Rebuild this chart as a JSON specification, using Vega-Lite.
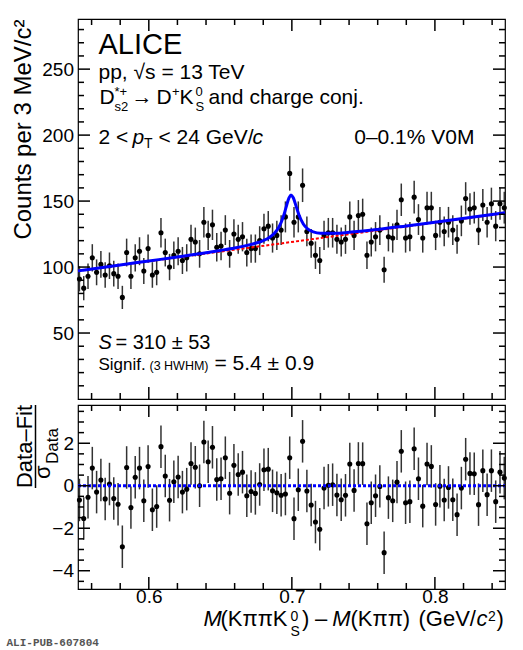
{
  "$schema": "https://vega.github.io/schema/vega-lite/v6.json",
  "background": "white",
  "padding": {"left": 5, "top": 17, "right": 2, "bottom": 4},
  "bounds": "flush",
  "spacing": 6,
  "datasets": {
    "bins": [
      {"m": 0.5515, "counts": 91, "err": 9.54, "pull": -0.67, "pull_err": 1},
      {"m": 0.5545, "counts": 84, "err": 9.17, "pull": -1.54, "pull_err": 1},
      {"m": 0.5575, "counts": 93, "err": 9.64, "pull": -0.54, "pull_err": 1},
      {"m": 0.5605, "counts": 107, "err": 10.34, "pull": 0.83, "pull_err": 1},
      {"m": 0.5635, "counts": 96, "err": 9.8, "pull": -0.3, "pull_err": 1},
      {"m": 0.5665, "counts": 102, "err": 10.1, "pull": 0.27, "pull_err": 1},
      {"m": 0.5695, "counts": 94, "err": 9.7, "pull": -0.62, "pull_err": 1},
      {"m": 0.5725, "counts": 101, "err": 10.05, "pull": 0.08, "pull_err": 1},
      {"m": 0.5755, "counts": 95, "err": 9.75, "pull": -0.6, "pull_err": 1},
      {"m": 0.5785, "counts": 93, "err": 9.64, "pull": -0.87, "pull_err": 1},
      {"m": 0.5815, "counts": 77, "err": 8.77, "pull": -2.87, "pull_err": 1},
      {"m": 0.5845, "counts": 111, "err": 10.54, "pull": 0.86, "pull_err": 1},
      {"m": 0.5875, "counts": 93, "err": 9.64, "pull": -1.03, "pull_err": 1},
      {"m": 0.5905, "counts": 107, "err": 10.34, "pull": 0.4, "pull_err": 1},
      {"m": 0.5935, "counts": 112, "err": 10.58, "pull": 0.83, "pull_err": 1},
      {"m": 0.5965, "counts": 97, "err": 9.85, "pull": -0.71, "pull_err": 1},
      {"m": 0.5995, "counts": 114, "err": 10.68, "pull": 0.9, "pull_err": 1},
      {"m": 0.6025, "counts": 94, "err": 9.7, "pull": -1.13, "pull_err": 1},
      {"m": 0.6055, "counts": 96, "err": 9.8, "pull": -0.98, "pull_err": 1},
      {"m": 0.6085, "counts": 126, "err": 11.22, "pull": 1.84, "pull_err": 1},
      {"m": 0.6115, "counts": 111, "err": 10.54, "pull": 0.46, "pull_err": 1},
      {"m": 0.6145, "counts": 100, "err": 10.0, "pull": -0.68, "pull_err": 1},
      {"m": 0.6175, "counts": 109, "err": 10.44, "pull": 0.19, "pull_err": 1},
      {"m": 0.6205, "counts": 112, "err": 10.58, "pull": 0.41, "pull_err": 1},
      {"m": 0.6235, "counts": 105, "err": 10.25, "pull": -0.3, "pull_err": 1},
      {"m": 0.6265, "counts": 107, "err": 10.34, "pull": -0.16, "pull_err": 1},
      {"m": 0.6295, "counts": 121, "err": 11.0, "pull": 1.05, "pull_err": 1},
      {"m": 0.6325, "counts": 119, "err": 10.91, "pull": 0.87, "pull_err": 1},
      {"m": 0.6355, "counts": 110, "err": 10.49, "pull": 0.0, "pull_err": 1},
      {"m": 0.6385, "counts": 134, "err": 11.58, "pull": 2.06, "pull_err": 1},
      {"m": 0.6415, "counts": 124, "err": 11.14, "pull": 1.13, "pull_err": 1},
      {"m": 0.6445, "counts": 132, "err": 11.49, "pull": 1.81, "pull_err": 1},
      {"m": 0.6475, "counts": 115, "err": 10.72, "pull": 0.29, "pull_err": 1},
      {"m": 0.6505, "counts": 116, "err": 10.77, "pull": 0.33, "pull_err": 1},
      {"m": 0.6535, "counts": 128, "err": 11.31, "pull": 1.32, "pull_err": 1},
      {"m": 0.6565, "counts": 110, "err": 10.49, "pull": -0.35, "pull_err": 1},
      {"m": 0.6595, "counts": 125, "err": 11.18, "pull": 0.96, "pull_err": 1},
      {"m": 0.6625, "counts": 121, "err": 11.0, "pull": 0.53, "pull_err": 1},
      {"m": 0.6655, "counts": 123, "err": 11.09, "pull": 0.64, "pull_err": 1},
      {"m": 0.6685, "counts": 111, "err": 10.54, "pull": -0.47, "pull_err": 1},
      {"m": 0.6715, "counts": 114, "err": 10.68, "pull": -0.27, "pull_err": 1},
      {"m": 0.6745, "counts": 114, "err": 10.68, "pull": -0.36, "pull_err": 1},
      {"m": 0.6775, "counts": 120, "err": 10.95, "pull": 0.06, "pull_err": 1},
      {"m": 0.6805, "counts": 129, "err": 11.36, "pull": 0.75, "pull_err": 1},
      {"m": 0.6835, "counts": 131, "err": 11.45, "pull": 0.78, "pull_err": 1},
      {"m": 0.6865, "counts": 122, "err": 11.05, "pull": -0.24, "pull_err": 1},
      {"m": 0.6895, "counts": 124, "err": 11.14, "pull": -0.33, "pull_err": 1},
      {"m": 0.6925, "counts": 128, "err": 11.31, "pull": -0.45, "pull_err": 1},
      {"m": 0.6955, "counts": 138, "err": 11.75, "pull": -0.39, "pull_err": 1},
      {"m": 0.6985, "counts": 171, "err": 13.08, "pull": 1.32, "pull_err": 1},
      {"m": 0.7015, "counts": 134, "err": 11.58, "pull": -1.55, "pull_err": 1},
      {"m": 0.7045, "counts": 138, "err": 11.75, "pull": -0.19, "pull_err": 1},
      {"m": 0.7075, "counts": 162, "err": 12.73, "pull": 2.09, "pull_err": 1},
      {"m": 0.7105, "counts": 127, "err": 11.27, "pull": -0.25, "pull_err": 1},
      {"m": 0.7135, "counts": 118, "err": 10.86, "pull": -0.91, "pull_err": 1},
      {"m": 0.7165, "counts": 109, "err": 10.44, "pull": -1.71, "pull_err": 1},
      {"m": 0.7195, "counts": 105, "err": 10.25, "pull": -2.05, "pull_err": 1},
      {"m": 0.7225, "counts": 124, "err": 11.14, "pull": -0.11, "pull_err": 1},
      {"m": 0.7255, "counts": 126, "err": 11.22, "pull": 0.02, "pull_err": 1},
      {"m": 0.7285, "counts": 126, "err": 11.22, "pull": 0.05, "pull_err": 1},
      {"m": 0.7315, "counts": 121, "err": 11.0, "pull": -0.44, "pull_err": 1},
      {"m": 0.7345, "counts": 119, "err": 10.91, "pull": -0.66, "pull_err": 1},
      {"m": 0.7375, "counts": 121, "err": 11.0, "pull": -0.45, "pull_err": 1},
      {"m": 0.7405, "counts": 138, "err": 11.75, "pull": 1.02, "pull_err": 1},
      {"m": 0.7435, "counts": 124, "err": 11.14, "pull": -0.22, "pull_err": 1},
      {"m": 0.7465, "counts": 139, "err": 11.79, "pull": 1.05, "pull_err": 1},
      {"m": 0.7495, "counts": 140, "err": 11.83, "pull": 1.04, "pull_err": 1},
      {"m": 0.7525, "counts": 109, "err": 10.44, "pull": -1.79, "pull_err": 1},
      {"m": 0.7555, "counts": 119, "err": 10.91, "pull": -0.8, "pull_err": 1},
      {"m": 0.7585, "counts": 123, "err": 11.09, "pull": -0.47, "pull_err": 1},
      {"m": 0.7615, "counts": 128, "err": 11.31, "pull": -0.03, "pull_err": 1},
      {"m": 0.7645, "counts": 98, "err": 9.9, "pull": -3.15, "pull_err": 1},
      {"m": 0.7675, "counts": 123, "err": 11.09, "pull": -0.56, "pull_err": 1},
      {"m": 0.7705, "counts": 122, "err": 11.05, "pull": -0.71, "pull_err": 1},
      {"m": 0.7735, "counts": 132, "err": 11.49, "pull": 0.17, "pull_err": 1},
      {"m": 0.7765, "counts": 151, "err": 12.29, "pull": 1.62, "pull_err": 1},
      {"m": 0.7795, "counts": 122, "err": 11.05, "pull": -0.8, "pull_err": 1},
      {"m": 0.7825, "counts": 123, "err": 11.09, "pull": -0.75, "pull_err": 1},
      {"m": 0.7855, "counts": 153, "err": 12.37, "pull": 1.74, "pull_err": 1},
      {"m": 0.7885, "counts": 136, "err": 11.66, "pull": 0.33, "pull_err": 1},
      {"m": 0.7915, "counts": 122, "err": 11.05, "pull": -0.96, "pull_err": 1},
      {"m": 0.7945, "counts": 145, "err": 12.04, "pull": 1.02, "pull_err": 1},
      {"m": 0.7975, "counts": 145, "err": 12.04, "pull": 0.91, "pull_err": 1},
      {"m": 0.8005, "counts": 124, "err": 11.14, "pull": -0.88, "pull_err": 1},
      {"m": 0.8035, "counts": 134, "err": 11.58, "pull": -0.02, "pull_err": 1},
      {"m": 0.8065, "counts": 127, "err": 11.27, "pull": -0.67, "pull_err": 1},
      {"m": 0.8095, "counts": 134, "err": 11.58, "pull": -0.08, "pull_err": 1},
      {"m": 0.8125, "counts": 128, "err": 11.31, "pull": -0.66, "pull_err": 1},
      {"m": 0.8155, "counts": 121, "err": 11.0, "pull": -1.36, "pull_err": 1},
      {"m": 0.8185, "counts": 135, "err": 11.62, "pull": -0.11, "pull_err": 1},
      {"m": 0.8215, "counts": 152, "err": 12.33, "pull": 1.25, "pull_err": 1},
      {"m": 0.8245, "counts": 144, "err": 12.0, "pull": 0.58, "pull_err": 1},
      {"m": 0.8275, "counts": 145, "err": 12.04, "pull": 0.56, "pull_err": 1},
      {"m": 0.8305, "counts": 128, "err": 11.31, "pull": -0.89, "pull_err": 1},
      {"m": 0.8335, "counts": 147, "err": 12.12, "pull": 0.71, "pull_err": 1},
      {"m": 0.8365, "counts": 134, "err": 11.58, "pull": -0.42, "pull_err": 1},
      {"m": 0.8395, "counts": 148, "err": 12.17, "pull": 0.71, "pull_err": 1},
      {"m": 0.8425, "counts": 131, "err": 11.45, "pull": -0.75, "pull_err": 1},
      {"m": 0.8455, "counts": 148, "err": 12.17, "pull": 0.64, "pull_err": 1},
      {"m": 0.8485, "counts": 145, "err": 12.04, "pull": 0.36, "pull_err": 1}
    ],
    "fit": [
      {"m": 0.5505, "counts": 97.1}, {"m": 0.58, "counts": 101.6}, {"m": 0.6, "counts": 104.6},
      {"m": 0.62, "counts": 107.6}, {"m": 0.64, "counts": 110.8}, {"m": 0.65, "counts": 112.6},
      {"m": 0.66, "counts": 114.5}, {"m": 0.67, "counts": 116.8}, {"m": 0.675, "counts": 118.2},
      {"m": 0.68, "counts": 120.1}, {"m": 0.684, "counts": 122.3}, {"m": 0.688, "counts": 125.9},
      {"m": 0.691, "counts": 130.3}, {"m": 0.694, "counts": 138.1}, {"m": 0.696, "counts": 145.4},
      {"m": 0.698, "counts": 152.5}, {"m": 0.6994, "counts": 154.6}, {"m": 0.701, "counts": 152.5},
      {"m": 0.703, "counts": 146.0}, {"m": 0.705, "counts": 139.4}, {"m": 0.708, "counts": 132.6},
      {"m": 0.711, "counts": 128.9}, {"m": 0.715, "counts": 126.7}, {"m": 0.72, "counts": 125.7},
      {"m": 0.73, "counts": 125.6}, {"m": 0.74, "counts": 126.3}, {"m": 0.76, "counts": 128.5},
      {"m": 0.78, "counts": 131.2}, {"m": 0.8, "counts": 134.0}, {"m": 0.849, "counts": 141.1}
    ],
    "bkg": [
      {"m": 0.5505, "counts": 97.1}, {"m": 0.849, "counts": 140.9}
    ],
    "zero": [
      {"m": 0.5505, "pull": 0}, {"m": 0.849, "pull": 0}
    ],
    "xmaj": [{"v": 0.6}, {"v": 0.7}, {"v": 0.8}],
    "xmin": [{"v": 0.56}, {"v": 0.58}, {"v": 0.62}, {"v": 0.64}, {"v": 0.66}, {"v": 0.68}, {"v": 0.72}, {"v": 0.74}, {"v": 0.76}, {"v": 0.78}, {"v": 0.82}, {"v": 0.84}],
    "ymaj_top": [{"v": 50}, {"v": 100}, {"v": 150}, {"v": 200}, {"v": 250}],
    "ymin_top": [{"v": 10}, {"v": 20}, {"v": 30}, {"v": 40}, {"v": 60}, {"v": 70}, {"v": 80}, {"v": 90}, {"v": 110}, {"v": 120}, {"v": 130}, {"v": 140}, {"v": 160}, {"v": 170}, {"v": 180}, {"v": 190}, {"v": 210}, {"v": 220}, {"v": 230}, {"v": 240}, {"v": 260}, {"v": 270}, {"v": 280}],
    "ymaj_bot": [{"v": -4}, {"v": -2}, {"v": 0}, {"v": 2}],
    "ymin_bot": [{"v": -4.5}, {"v": -3.5}, {"v": -3}, {"v": -2.5}, {"v": -1.5}, {"v": -1}, {"v": -0.5}, {"v": 0.5}, {"v": 1}, {"v": 1.5}, {"v": 2.5}, {"v": 3}, {"v": 3.5}]
  },
  "vconcat": [
    {
      "width": 427,
      "height": 380,
      "resolve": {"axis": {"x": "independent", "y": "independent"}},
      "layer": [
        {
          "data": {"name": "bins"},
          "mark": {"type": "errorbar", "color": "#333", "thickness": 1.5},
          "encoding": {
            "x": {"field": "m", "type": "quantitative", "axis": null, "scale": {"domain": [0.5505, 0.849], "nice": false, "zero": false}},
            "y": {"field": "counts", "type": "quantitative", "axis": null, "scale": {"domain": [0, 288], "nice": false}},
            "yError": {"field": "err"}
          }
        },
        {
          "data": {"name": "bins"},
          "mark": {"type": "circle", "size": 26, "color": "#000", "opacity": 1},
          "encoding": {
            "x": {"field": "m", "type": "quantitative", "axis": null},
            "y": {"field": "counts", "type": "quantitative", "axis": null}
          }
        },
        {
          "data": {"name": "bkg"},
          "mark": {"type": "line", "color": "#ff0000", "strokeWidth": 2, "strokeDash": [3, 2]},
          "encoding": {
            "x": {"field": "m", "type": "quantitative", "axis": null},
            "y": {"field": "counts", "type": "quantitative", "axis": {"orient": "left", "values": [50, 100, 150, 200, 250], "format": "d", "labelPadding": 4.5, "ticks": false, "grid": false, "title": "Counts per 3 MeV/c²", "titleAnchor": "end", "titleFontSize": 24, "titlePadding": 6}}
          }
        },
        {
          "data": {"name": "fit"},
          "mark": {"type": "line", "color": "#0000ff", "strokeWidth": 3, "interpolate": "monotone"},
          "encoding": {
            "x": {"field": "m", "type": "quantitative", "axis": null},
            "y": {"field": "counts", "type": "quantitative", "axis": null}
          }
        },
        {"data": {"name": "xmaj"}, "mark": {"type": "rule", "color": "#000", "strokeWidth": 1.5}, "encoding": {"x": {"field": "v", "type": "quantitative", "axis": null}, "y": {"datum": 0, "type": "quantitative", "axis": null}, "y2": {"datum": 9.095}}},
        {"data": {"name": "xmaj"}, "mark": {"type": "rule", "color": "#000", "strokeWidth": 1.5}, "encoding": {"x": {"field": "v", "type": "quantitative", "axis": null}, "y": {"datum": 288, "type": "quantitative", "axis": null}, "y2": {"datum": 278.905}}},
        {"data": {"name": "xmin"}, "mark": {"type": "rule", "color": "#000", "strokeWidth": 1.5}, "encoding": {"x": {"field": "v", "type": "quantitative", "axis": null}, "y": {"datum": 0, "type": "quantitative", "axis": null}, "y2": {"datum": 4.547}}},
        {"data": {"name": "xmin"}, "mark": {"type": "rule", "color": "#000", "strokeWidth": 1.5}, "encoding": {"x": {"field": "v", "type": "quantitative", "axis": null}, "y": {"datum": 288, "type": "quantitative", "axis": null}, "y2": {"datum": 283.453}}},
        {"data": {"name": "ymaj_top"}, "mark": {"type": "rule", "color": "#000", "strokeWidth": 1.5}, "encoding": {"y": {"field": "v", "type": "quantitative", "axis": null}, "x": {"datum": 0.5505, "type": "quantitative", "axis": null}, "x2": {"datum": 0.558889}}},
        {"data": {"name": "ymaj_top"}, "mark": {"type": "rule", "color": "#000", "strokeWidth": 1.5}, "encoding": {"y": {"field": "v", "type": "quantitative", "axis": null}, "x": {"datum": 0.849, "type": "quantitative", "axis": null}, "x2": {"datum": 0.840611}}},
        {"data": {"name": "ymin_top"}, "mark": {"type": "rule", "color": "#000", "strokeWidth": 1.5}, "encoding": {"y": {"field": "v", "type": "quantitative", "axis": null}, "x": {"datum": 0.5505, "type": "quantitative", "axis": null}, "x2": {"datum": 0.554694}}},
        {"data": {"name": "ymin_top"}, "mark": {"type": "rule", "color": "#000", "strokeWidth": 1.5}, "encoding": {"y": {"field": "v", "type": "quantitative", "axis": null}, "x": {"datum": 0.849, "type": "quantitative", "axis": null}, "x2": {"datum": 0.844806}}},
        {"data": {"values": [{}]}, "mark": {"type": "text", "text": "ALICE", "align": "left", "baseline": "alphabetic", "fontSize": 29}, "encoding": {"x": {"datum": 0.56483, "type": "quantitative", "axis": null}, "y": {"datum": 261.7, "type": "quantitative", "axis": null}}},
        {"data": {"values": [{}]}, "mark": {"type": "text", "text": "pp, √s = 13 TeV", "align": "left", "baseline": "alphabetic", "fontSize": 21}, "encoding": {"x": {"datum": 0.56483, "type": "quantitative", "axis": null}, "y": {"datum": 242.3, "type": "quantitative", "axis": null}}},
        {"data": {"values": [{}]}, "mark": {"type": "text", "text": "D", "align": "left", "baseline": "alphabetic", "fontSize": 21}, "encoding": {"x": {"datum": 0.56553, "type": "quantitative", "axis": null}, "y": {"datum": 223.6, "type": "quantitative", "axis": null}}},
        {"data": {"values": [{}]}, "mark": {"type": "text", "text": "*+", "align": "left", "baseline": "alphabetic", "fontSize": 13}, "encoding": {"x": {"datum": 0.57601, "type": "quantitative", "axis": null}, "y": {"datum": 229.3, "type": "quantitative", "axis": null}}},
        {"data": {"values": [{}]}, "mark": {"type": "text", "text": "s2", "align": "left", "baseline": "alphabetic", "fontSize": 13}, "encoding": {"x": {"datum": 0.57601, "type": "quantitative", "axis": null}, "y": {"datum": 218.3, "type": "quantitative", "axis": null}}},
        {"data": {"values": [{}]}, "mark": {"type": "text", "text": "→", "align": "left", "baseline": "alphabetic", "fontSize": 21}, "encoding": {"x": {"datum": 0.5879, "type": "quantitative", "axis": null}, "y": {"datum": 223.6, "type": "quantitative", "axis": null}}},
        {"data": {"values": [{}]}, "mark": {"type": "text", "text": "D", "align": "left", "baseline": "alphabetic", "fontSize": 21}, "encoding": {"x": {"datum": 0.60538, "type": "quantitative", "axis": null}, "y": {"datum": 223.6, "type": "quantitative", "axis": null}}},
        {"data": {"values": [{}]}, "mark": {"type": "text", "text": "+", "align": "left", "baseline": "alphabetic", "fontSize": 13}, "encoding": {"x": {"datum": 0.61621, "type": "quantitative", "axis": null}, "y": {"datum": 229.3, "type": "quantitative", "axis": null}}},
        {"data": {"values": [{}]}, "mark": {"type": "text", "text": "K", "align": "left", "baseline": "alphabetic", "fontSize": 21}, "encoding": {"x": {"datum": 0.62145, "type": "quantitative", "axis": null}, "y": {"datum": 223.6, "type": "quantitative", "axis": null}}},
        {"data": {"values": [{}]}, "mark": {"type": "text", "text": "0", "align": "left", "baseline": "alphabetic", "fontSize": 13}, "encoding": {"x": {"datum": 0.63264, "type": "quantitative", "axis": null}, "y": {"datum": 229.3, "type": "quantitative", "axis": null}}},
        {"data": {"values": [{}]}, "mark": {"type": "text", "text": "S", "align": "left", "baseline": "alphabetic", "fontSize": 13}, "encoding": {"x": {"datum": 0.63264, "type": "quantitative", "axis": null}, "y": {"datum": 218.3, "type": "quantitative", "axis": null}}},
        {"data": {"values": [{}]}, "mark": {"type": "text", "text": "and charge conj.", "align": "left", "baseline": "alphabetic", "fontSize": 21}, "encoding": {"x": {"datum": 0.64173, "type": "quantitative", "axis": null}, "y": {"datum": 223.6, "type": "quantitative", "axis": null}}},
        {"data": {"values": [{}]}, "mark": {"type": "text", "text": "2 <", "align": "left", "baseline": "alphabetic", "fontSize": 21}, "encoding": {"x": {"datum": 0.56483, "type": "quantitative", "axis": null}, "y": {"datum": 193.5, "type": "quantitative", "axis": null}}},
        {"data": {"values": [{}]}, "mark": {"type": "text", "text": "p", "align": "left", "baseline": "alphabetic", "fontSize": 21, "fontStyle": "italic"}, "encoding": {"x": {"datum": 0.5886, "type": "quantitative", "axis": null}, "y": {"datum": 193.5, "type": "quantitative", "axis": null}}},
        {"data": {"values": [{}]}, "mark": {"type": "text", "text": "T", "align": "left", "baseline": "alphabetic", "fontSize": 14}, "encoding": {"x": {"datum": 0.59664, "type": "quantitative", "axis": null}, "y": {"datum": 190.2, "type": "quantitative", "axis": null}}},
        {"data": {"values": [{}]}, "mark": {"type": "text", "text": "< 24 GeV/", "align": "left", "baseline": "alphabetic", "fontSize": 21}, "encoding": {"x": {"datum": 0.60677, "type": "quantitative", "axis": null}, "y": {"datum": 193.5, "type": "quantitative", "axis": null}}},
        {"data": {"values": [{}]}, "mark": {"type": "text", "text": "c", "align": "left", "baseline": "alphabetic", "fontSize": 21, "fontStyle": "italic"}, "encoding": {"x": {"datum": 0.67248, "type": "quantitative", "axis": null}, "y": {"datum": 193.5, "type": "quantitative", "axis": null}}},
        {"data": {"values": [{}]}, "mark": {"type": "text", "text": "0–0.1% V0M", "align": "right", "baseline": "alphabetic", "fontSize": 21}, "encoding": {"x": {"datum": 0.82767, "type": "quantitative", "axis": null}, "y": {"datum": 193.5, "type": "quantitative", "axis": null}}},
        {"data": {"values": [{}]}, "mark": {"type": "text", "text": "S", "align": "left", "baseline": "alphabetic", "fontSize": 20, "fontStyle": "italic"}, "encoding": {"x": {"datum": 0.56483, "type": "quantitative", "axis": null}, "y": {"datum": 37.9, "type": "quantitative", "axis": null}}},
        {"data": {"values": [{}]}, "mark": {"type": "text", "text": "= 310 ± 53", "align": "left", "baseline": "alphabetic", "fontSize": 20}, "encoding": {"x": {"datum": 0.57671, "type": "quantitative", "axis": null}, "y": {"datum": 37.9, "type": "quantitative", "axis": null}}},
        {"data": {"values": [{}]}, "mark": {"type": "text", "text": "Signif.", "align": "left", "baseline": "alphabetic", "fontSize": 17}, "encoding": {"x": {"datum": 0.56483, "type": "quantitative", "axis": null}, "y": {"datum": 22.2, "type": "quantitative", "axis": null}}},
        {"data": {"values": [{}]}, "mark": {"type": "text", "text": "(3 HWHM)", "align": "left", "baseline": "alphabetic", "fontSize": 12.5}, "encoding": {"x": {"datum": 0.60048, "type": "quantitative", "axis": null}, "y": {"datum": 22.2, "type": "quantitative", "axis": null}}},
        {"data": {"values": [{}]}, "mark": {"type": "text", "text": "= 5.4 ± 0.9", "align": "left", "baseline": "alphabetic", "fontSize": 21}, "encoding": {"x": {"datum": 0.64592, "type": "quantitative", "axis": null}, "y": {"datum": 22.2, "type": "quantitative", "axis": null}}}
      ]
    },
    {
      "width": 427,
      "height": 184,
      "resolve": {"axis": {"x": "independent", "y": "independent"}},
      "layer": [
        {
          "data": {"name": "bins"},
          "mark": {"type": "errorbar", "color": "#333", "thickness": 1.5},
          "encoding": {
            "x": {"field": "m", "type": "quantitative", "axis": null, "scale": {"domain": [0.5505, 0.849], "nice": false, "zero": false}},
            "y": {"field": "pull", "type": "quantitative", "axis": null, "scale": {"domain": [-4.86, 3.8], "nice": false, "zero": false}},
            "yError": {"field": "pull_err"}
          }
        },
        {
          "data": {"name": "bins"},
          "mark": {"type": "circle", "size": 26, "color": "#000", "opacity": 1},
          "encoding": {
            "x": {"field": "m", "type": "quantitative", "axis": null},
            "y": {"field": "pull", "type": "quantitative", "axis": null}
          }
        },
        {
          "data": {"name": "zero"},
          "mark": {"type": "line", "color": "#0000ff", "strokeWidth": 3, "strokeDash": [3, 2]},
          "encoding": {
            "x": {"field": "m", "type": "quantitative", "axis": {"orient": "bottom", "values": [0.6, 0.7, 0.8], "format": ".1f", "labelPadding": -2, "title": null, "ticks": false, "grid": false}},
            "y": {"field": "pull", "type": "quantitative", "axis": {"orient": "left", "values": [-4, -2, 0, 2], "format": ".0f", "labelPadding": 4.5, "title": null, "ticks": false, "grid": false}}
          }
        },
        {"data": {"name": "xmaj"}, "mark": {"type": "rule", "color": "#000", "strokeWidth": 1.5}, "encoding": {"x": {"field": "v", "type": "quantitative", "axis": null}, "y": {"datum": -4.86, "type": "quantitative", "axis": null}, "y2": {"datum": -4.2952}}},
        {"data": {"name": "xmaj"}, "mark": {"type": "rule", "color": "#000", "strokeWidth": 1.5}, "encoding": {"x": {"field": "v", "type": "quantitative", "axis": null}, "y": {"datum": 3.8, "type": "quantitative", "axis": null}, "y2": {"datum": 3.2352}}},
        {"data": {"name": "xmin"}, "mark": {"type": "rule", "color": "#000", "strokeWidth": 1.5}, "encoding": {"x": {"field": "v", "type": "quantitative", "axis": null}, "y": {"datum": -4.86, "type": "quantitative", "axis": null}, "y2": {"datum": -4.5776}}},
        {"data": {"name": "xmin"}, "mark": {"type": "rule", "color": "#000", "strokeWidth": 1.5}, "encoding": {"x": {"field": "v", "type": "quantitative", "axis": null}, "y": {"datum": 3.8, "type": "quantitative", "axis": null}, "y2": {"datum": 3.5176}}},
        {"data": {"name": "ymaj_bot"}, "mark": {"type": "rule", "color": "#000", "strokeWidth": 1.5}, "encoding": {"y": {"field": "v", "type": "quantitative", "axis": null}, "x": {"datum": 0.5505, "type": "quantitative", "axis": null}, "x2": {"datum": 0.558889}}},
        {"data": {"name": "ymaj_bot"}, "mark": {"type": "rule", "color": "#000", "strokeWidth": 1.5}, "encoding": {"y": {"field": "v", "type": "quantitative", "axis": null}, "x": {"datum": 0.849, "type": "quantitative", "axis": null}, "x2": {"datum": 0.840611}}},
        {"data": {"name": "ymin_bot"}, "mark": {"type": "rule", "color": "#000", "strokeWidth": 1.5}, "encoding": {"y": {"field": "v", "type": "quantitative", "axis": null}, "x": {"datum": 0.5505, "type": "quantitative", "axis": null}, "x2": {"datum": 0.554694}}},
        {"data": {"name": "ymin_bot"}, "mark": {"type": "rule", "color": "#000", "strokeWidth": 1.5}, "encoding": {"y": {"field": "v", "type": "quantitative", "axis": null}, "x": {"datum": 0.849, "type": "quantitative", "axis": null}, "x2": {"datum": 0.844806}}},
        {"data": {"values": [{}]}, "mark": {"type": "text", "text": "Data–Fit", "align": "center", "baseline": "alphabetic", "angle": 270, "fontSize": 22}, "encoding": {"x": {"datum": 0.51869, "type": "quantitative", "axis": null}, "y": {"datum": 1.847, "type": "quantitative", "axis": null}}},
        {"data": {"values": [{}]}, "mark": {"type": "rule", "color": "#000", "strokeWidth": 1.5}, "encoding": {"x": {"datum": 0.52079, "type": "quantitative", "axis": null}, "y": {"datum": 3.8, "type": "quantitative", "axis": null}, "y2": {"datum": -0.107}}},
        {"data": {"values": [{}]}, "mark": {"type": "text", "text": "σ", "align": "left", "baseline": "alphabetic", "angle": 270, "fontSize": 22}, "encoding": {"x": {"datum": 0.53058, "type": "quantitative", "axis": null}, "y": {"datum": 0.317, "type": "quantitative", "axis": null}}},
        {"data": {"values": [{}]}, "mark": {"type": "text", "text": "Data", "align": "left", "baseline": "alphabetic", "angle": 270, "fontSize": 17}, "encoding": {"x": {"datum": 0.53617, "type": "quantitative", "axis": null}, "y": {"datum": 1.023, "type": "quantitative", "axis": null}}},
        {"data": {"values": [{}]}, "mark": {"type": "text", "text": "M", "align": "left", "baseline": "alphabetic", "fontSize": 22, "fontStyle": "italic"}, "encoding": {"x": {"datum": 0.63823, "type": "quantitative", "axis": null}, "y": {"datum": -6.62, "type": "quantitative", "axis": null}}},
        {"data": {"values": [{}]}, "mark": {"type": "text", "text": "(KππK", "align": "left", "baseline": "alphabetic", "fontSize": 22}, "encoding": {"x": {"datum": 0.65012, "type": "quantitative", "axis": null}, "y": {"datum": -6.62, "type": "quantitative", "axis": null}}},
        {"data": {"values": [{}]}, "mark": {"type": "text", "text": "0", "align": "left", "baseline": "alphabetic", "fontSize": 14}, "encoding": {"x": {"datum": 0.69905, "type": "quantitative", "axis": null}, "y": {"datum": -6.344, "type": "quantitative", "axis": null}}},
        {"data": {"values": [{}]}, "mark": {"type": "text", "text": "S", "align": "left", "baseline": "alphabetic", "fontSize": 14}, "encoding": {"x": {"datum": 0.69905, "type": "quantitative", "axis": null}, "y": {"datum": -7.06, "type": "quantitative", "axis": null}}},
        {"data": {"values": [{}]}, "mark": {"type": "text", "text": ")", "align": "left", "baseline": "alphabetic", "fontSize": 22}, "encoding": {"x": {"datum": 0.70709, "type": "quantitative", "axis": null}, "y": {"datum": -6.62, "type": "quantitative", "axis": null}}},
        {"data": {"values": [{}]}, "mark": {"type": "text", "text": "–", "align": "left", "baseline": "alphabetic", "fontSize": 22}, "encoding": {"x": {"datum": 0.71611, "type": "quantitative", "axis": null}, "y": {"datum": -6.62, "type": "quantitative", "axis": null}}},
        {"data": {"values": [{}]}, "mark": {"type": "text", "text": "M", "align": "left", "baseline": "alphabetic", "fontSize": 22, "fontStyle": "italic"}, "encoding": {"x": {"datum": 0.7282, "type": "quantitative", "axis": null}, "y": {"datum": -6.62, "type": "quantitative", "axis": null}}},
        {"data": {"values": [{}]}, "mark": {"type": "text", "text": "(Kππ)", "align": "left", "baseline": "alphabetic", "fontSize": 22}, "encoding": {"x": {"datum": 0.74099, "type": "quantitative", "axis": null}, "y": {"datum": -6.62, "type": "quantitative", "axis": null}}},
        {"data": {"values": [{}]}, "mark": {"type": "text", "text": "(GeV/", "align": "left", "baseline": "alphabetic", "fontSize": 22}, "encoding": {"x": {"datum": 0.78853, "type": "quantitative", "axis": null}, "y": {"datum": -6.62, "type": "quantitative", "axis": null}}},
        {"data": {"values": [{}]}, "mark": {"type": "text", "text": "c", "align": "left", "baseline": "alphabetic", "fontSize": 22, "fontStyle": "italic"}, "encoding": {"x": {"datum": 0.82908, "type": "quantitative", "axis": null}, "y": {"datum": -6.62, "type": "quantitative", "axis": null}}},
        {"data": {"values": [{}]}, "mark": {"type": "text", "text": "2", "align": "left", "baseline": "alphabetic", "fontSize": 14}, "encoding": {"x": {"datum": 0.83711, "type": "quantitative", "axis": null}, "y": {"datum": -6.344, "type": "quantitative", "axis": null}}},
        {"data": {"values": [{}]}, "mark": {"type": "text", "text": ")", "align": "left", "baseline": "alphabetic", "fontSize": 22}, "encoding": {"x": {"datum": 0.84306, "type": "quantitative", "axis": null}, "y": {"datum": -6.62, "type": "quantitative", "axis": null}}},
        {"data": {"values": [{}]}, "mark": {"type": "text", "text": "ALI-PUB-607804", "align": "left", "baseline": "alphabetic", "fontSize": 11, "font": "Liberation Mono", "fontWeight": "bold", "color": "#555"}, "encoding": {"x": {"datum": 0.50052, "type": "quantitative", "axis": null}, "y": {"datum": -7.54, "type": "quantitative", "axis": null}}}
      ]
    }
  ],
  "config": {
    "view": {"stroke": "#000", "strokeWidth": 1.2},
    "font": "Liberation Sans",
    "text": {"font": "Liberation Sans", "color": "#000"},
    "axis": {
      "domain": false,
      "labelFont": "Liberation Sans",
      "labelFontSize": 19,
      "labelColor": "#000",
      "labelOverlap": false,
      "labelFlush": false,
      "labelBound": false,
      "titleFont": "Liberation Sans",
      "titleFontWeight": "normal",
      "titleColor": "#000"
    }
  }
}
